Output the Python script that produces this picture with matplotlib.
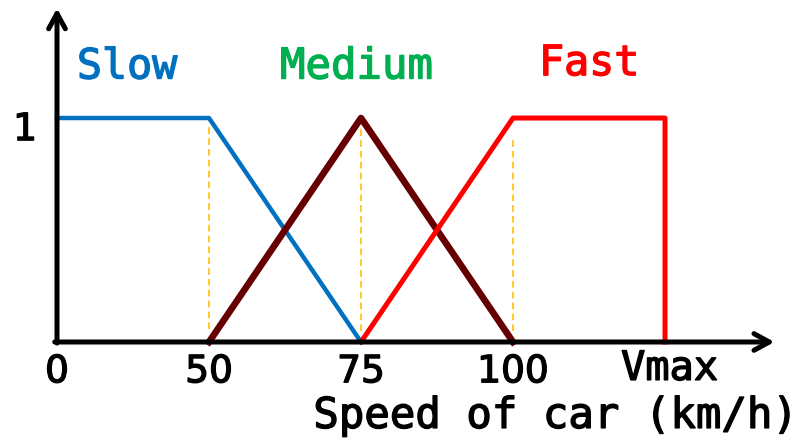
import matplotlib
matplotlib.use('Agg')
import matplotlib.pyplot as plt
import matplotlib.patheffects as pe

# schematic axis: breakpoints drawn at equal spacing
tick_labels = ['0', '50', '75', '100', 'Vmax']
tick_pos = [0, 1, 2, 3, 4]

slow_x = [0, 1, 2]
slow_y = [1, 1, 0]
medium_x = [1, 2, 3]
medium_y = [0, 1, 0]
fast_x = [2, 3, 4, 4]
fast_y = [0, 1, 1, 0]

guide_x = [1, 2, 3]
guide_top = [0.97, 0.97, 0.915]
guide_bottom = [0.06, 0.05, 0.05]


def heavy(color):
    # thicken glyphs a bit, the original font is heavier
    return [pe.withStroke(linewidth=1.0, foreground=color)]


fig = plt.figure(figsize=(8, 4.43), dpi=100)
ax = fig.add_axes([0, 0, 1, 1])
ax.set_xlim(-0.375, 4.888)
ax.set_ylim(-0.451, 1.527)
ax.axis('off')

# guides
for gx, gt, gb in zip(guide_x, guide_top, guide_bottom):
    ax.plot([gx, gx], [gb, gt], color='#FFC000', lw=1.2, ls=(0, (4, 2.5)), zorder=1)

# membership functions
ax.plot(slow_x, slow_y, color='#0070C0', lw=3.2, zorder=3)
ax.plot(medium_x, medium_y, color='#660000', lw=4.8, zorder=3)
ax.plot(fast_x, fast_y, color='#FF0000', lw=3.6, zorder=3)

# axes with arrows
arrow = dict(arrowstyle='->,head_length=1.1,head_width=0.6',
             lw=3.6, color='black', shrinkA=0, shrinkB=0)
ax.annotate('', xy=(0, 1.49), xytext=(0, -0.005), arrowprops=arrow, zorder=4)
ax.annotate('', xy=(4.72, 0), xytext=(-0.015, 0), arrowprops=arrow, zorder=4)

# tick labels
for p, lab in zip(tick_pos, tick_labels):
    if lab == 'Vmax':
        ax.text(p + 0.03, -0.12, lab, ha='center', va='center', fontsize=29,
                family='DejaVu Sans Mono', path_effects=heavy('black'))
    else:
        ax.text(p, -0.135, lab, ha='center', va='center', fontsize=27,
                family='DejaVu Sans', path_effects=heavy('black'))
ax.text(-0.21, 0.946, '1', ha='center', va='center', fontsize=27,
        family='DejaVu Sans', path_effects=heavy('black'))

ax.text(3.28, -0.33, 'Speed of car (km/h)', ha='center', va='center', fontsize=30.5,
        family='DejaVu Sans Mono', path_effects=heavy('black'))

# set labels
ax.text(0.46, 1.23, 'Slow', ha='center', va='center', fontsize=30,
        family='DejaVu Sans Mono', color='#0070C0', path_effects=heavy('#0070C0'))
ax.text(1.97, 1.23, 'Medium', ha='center', va='center', fontsize=30.5,
        family='DejaVu Sans Mono', color='#00B050', path_effects=heavy('#00B050'))
ax.text(3.5, 1.245, 'Fast', ha='center', va='center', fontsize=30,
        family='DejaVu Sans Mono', color='#FF0000', path_effects=heavy('#FF0000'))

plt.savefig('out.png', dpi=100)
plt.close()
